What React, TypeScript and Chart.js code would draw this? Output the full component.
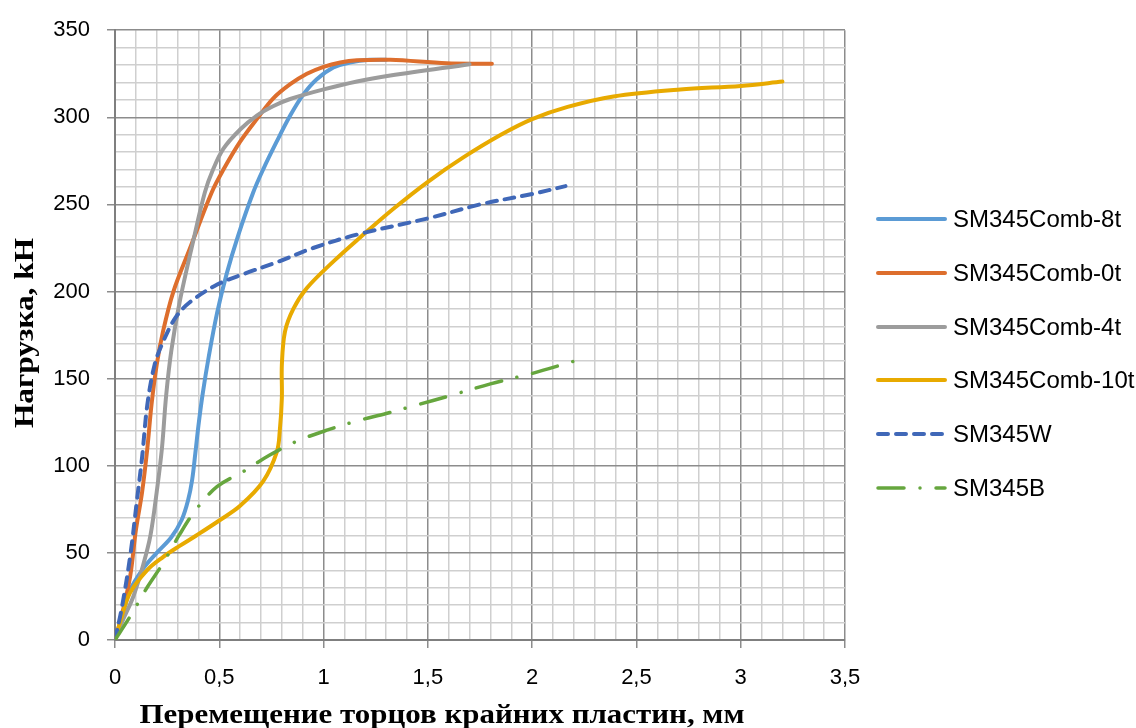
import React, { useEffect, useRef } from 'react';
import { Chart, registerables } from 'chart.js';

Chart.register(...registerables);

// ---- Data ----
const seriesNames = ['SM345Comb-8t', 'SM345Comb-0t', 'SM345Comb-4t', 'SM345Comb-10t', 'SM345W', 'SM345B'];

const comb8tX = [0, 0.035, 0.072, 0.135, 0.2, 0.27, 0.32, 0.35, 0.37, 0.385, 0.4, 0.42, 0.45, 0.49, 0.535, 0.59, 0.663, 0.71, 0.775, 0.84, 0.9, 0.966, 1.047, 1.126, 1.22, 1.3];
const comb8tY = [0, 14, 28.6, 41, 50, 59, 69, 80, 92, 107, 123, 141, 163, 188, 210, 232, 257, 270, 286, 301, 312.6, 321.7, 328.6, 331.4, 333, 333];

const comb0tX = [0, 0.024, 0.072, 0.1, 0.13, 0.155, 0.175, 0.2, 0.23, 0.28, 0.36, 0.464, 0.52, 0.6, 0.68, 0.76, 0.84, 0.92, 1.0, 1.08, 1.16, 1.32, 1.59, 1.807];
const comb0tY = [0, 10, 36, 63, 85, 110, 135, 158, 177, 200, 225, 257, 270, 286, 299, 311, 319, 325, 329, 331.5, 332.7, 333, 331, 330.8];

const comb4tX = [0, 0.04, 0.088, 0.135, 0.17, 0.2, 0.225, 0.245, 0.27, 0.31, 0.375, 0.431, 0.47, 0.52, 0.6, 0.68, 0.76, 0.84, 1.0, 1.16, 1.32, 1.7];
const comb4tY = [0, 12, 25, 43, 60, 85, 110, 140, 166, 194, 229, 257, 270, 282, 293, 301, 306.5, 310.5, 316, 320.6, 324, 330.5];

const comb10tX = [0, 0.024, 0.072, 0.153, 0.23, 0.31, 0.39, 0.5, 0.6, 0.71, 0.776, 0.79, 0.8, 0.8, 0.815, 0.855, 0.92, 1.045, 1.175, 1.335, 1.5, 1.67, 1.85, 2.0, 2.17, 2.39, 2.71, 3.0, 3.2];
const comb10tY = [0, 10, 27, 40, 47.6, 54, 60, 68.6, 77, 91, 108, 120, 139, 158, 177, 190, 202, 217, 231, 247.5, 263, 277, 290, 299, 306, 312, 316, 318, 320.5];

const wX = [0, 0.035, 0.075, 0.105, 0.13, 0.155, 0.19, 0.23, 0.29, 0.36, 0.49, 0.615, 0.78, 0.95, 1.17, 1.5, 1.75, 2.0, 2.16];
const wY = [0, 20, 50, 80, 105, 135, 158, 171, 185, 194, 204, 210, 217, 225, 233, 242, 250, 256, 260.5];

const bX = [0, 0.07, 0.153, 0.23, 0.307, 0.383, 0.489, 0.614, 0.74, 0.87, 1.02, 1.16, 1.3, 1.45, 1.6, 1.8, 2.0, 2.2];
const bY = [0, 13, 30, 44, 60, 74, 88, 96.6, 106, 114, 120.6, 125.7, 130, 135, 140, 147, 153, 160];

const xMajorTicks = [0, 0.5, 1, 1.5, 2, 2.5, 3, 3.5];
const yMajorTicks = [0, 50, 100, 150, 200, 250, 300, 350];

const xTitle = 'Перемещение торцов крайних пластин, мм';
const yTitle = 'Нагрузка, kH';

// ---- Styles ----
const seriesStyles = [
  { color: '#5B9BD5', width: 4, dash: [] as number[] },
  { color: '#DD6E2D', width: 4, dash: [] as number[] },
  { color: '#9C9C9C', width: 4, dash: [] as number[] },
  { color: '#E8AA00', width: 4, dash: [] as number[] },
  { color: '#4068B8', width: 4, dash: [10, 8] },
  { color: '#66A63E', width: 3.5, dash: [26, 16, 0.01, 16] },
];

const seriesX = [comb8tX, comb0tX, comb4tX, comb10tX, wX, bX];
const seriesY = [comb8tY, comb0tY, comb4tY, comb10tY, wY, bY];

const isMajor = (v: number, majors: number[]) => majors.some((m) => Math.abs(m - v) < 1e-6);
const MAJOR_GRID = '#8C8C8C';
const MINOR_GRID = '#CFCFCF';
const TITLE_FONT = 'bold 27px "Liberation Serif", "Times New Roman", serif';

// Axis titles drawn as canvas text, slightly widened like the reference
const axisTitlePlugin = {
  id: 'axisTitles',
  afterDraw(chart: any) {
    const ctx = chart.ctx as CanvasRenderingContext2D;
    ctx.save();
    ctx.font = TITLE_FONT;
    ctx.fillStyle = '#000';
    ctx.textAlign = 'center';
    ctx.textBaseline = 'alphabetic';
    const wx = ctx.measureText(xTitle).width;
    ctx.translate(442, 723);
    ctx.scale(605 / wx, 1);
    ctx.fillText(xTitle, 0, 0);
    ctx.restore();

    ctx.save();
    ctx.font = TITLE_FONT;
    ctx.fillStyle = '#000';
    ctx.textAlign = 'center';
    ctx.textBaseline = 'alphabetic';
    const wy = ctx.measureText(yTitle).width;
    ctx.translate(33, 333);
    ctx.rotate(-Math.PI / 2);
    ctx.scale(190 / wy, 1);
    ctx.fillText(yTitle, 0, 0);
    ctx.restore();
  },
};

export default function App() {
  const canvasRef = useRef<HTMLCanvasElement | null>(null);

  useEffect(() => {
    const canvas = canvasRef.current;
    if (!canvas) return;
    const n = seriesNames.length;
    const chart = new Chart(canvas, {
      type: 'scatter',
      data: {
        datasets: seriesNames.map((name, i) => ({
          label: name,
          data: seriesX[i].map((x, j) => ({ x, y: seriesY[i][j] })),
          showLine: true,
          borderColor: seriesStyles[i].color,
          backgroundColor: seriesStyles[i].color,
          borderWidth: seriesStyles[i].width,
          borderDash: seriesStyles[i].dash,
          borderCapStyle: 'round',
          borderJoinStyle: 'round',
          pointRadius: 0,
          pointHoverRadius: 0,
          tension: 0.35,
          fill: false,
          order: n - i,
        })),
      },
      plugins: [axisTitlePlugin],
      options: {
        responsive: false,
        animation: false,
        layout: { padding: { top: 28, right: 291, bottom: 0, left: 0 } },
        plugins: { legend: { display: false }, tooltip: { enabled: false } },
        scales: {
          x: {
            type: 'linear',
            min: 0,
            max: 3.5,
            afterFit: (s: any) => { s.height = 88; },
            ticks: {
              stepSize: 0.1,
              autoSkip: false,
              maxRotation: 0,
              minRotation: 0,
              padding: 17,
              color: '#000',
              font: { family: '"Liberation Sans", Arial, sans-serif', size: 22 },
              callback: (v: any) => (isMajor(Number(v), xMajorTicks) ? String(Math.round(Number(v) * 10) / 10).replace('.', ',') : ''),
            },
            grid: {
              color: (c: any) => (c.tick && isMajor(c.tick.value, xMajorTicks) ? MAJOR_GRID : MINOR_GRID),
              tickColor: (c: any) => (c.tick && isMajor(c.tick.value, xMajorTicks) ? MAJOR_GRID : 'rgba(0,0,0,0)'),
              lineWidth: 1.5,
              tickLength: 8,
            },
            border: { color: '#7F7F7F', width: 2 },
            title: { display: false },
          },
          y: {
            type: 'linear',
            min: 0,
            max: 350,
            afterFit: (s: any) => { s.width = 115; },
            ticks: {
              stepSize: 10,
              autoSkip: false,
              padding: 17,
              color: '#000',
              font: { family: '"Liberation Sans", Arial, sans-serif', size: 22 },
              callback: (v: any) => (isMajor(Number(v), yMajorTicks) ? String(Math.round(Number(v))) : ''),
            },
            grid: {
              color: (c: any) => (c.tick && isMajor(c.tick.value, yMajorTicks) ? MAJOR_GRID : MINOR_GRID),
              tickColor: (c: any) => (c.tick && isMajor(c.tick.value, yMajorTicks) ? MAJOR_GRID : 'rgba(0,0,0,0)'),
              lineWidth: 1.5,
              tickLength: 8,
            },
            border: { color: '#7F7F7F', width: 2 },
            title: { display: false },
          },
        },
      },
    } as any);
    return () => chart.destroy();
  }, []);

  return (
    <div style={{ position: 'absolute', left: 0, top: 0, width: 1136, height: 728, background: '#fff' }}>
      <canvas ref={canvasRef} width={1136} height={728} style={{ display: 'block' }} />
      {seriesNames.map((name, i) => (
        <div
          key={name}
          style={{
            position: 'absolute',
            left: 876,
            top: 219 + i * 53.8 - 15,
            height: 30,
            display: 'flex',
            alignItems: 'center',
            whiteSpace: 'nowrap',
            font: '24px "Liberation Sans", Arial, sans-serif',
            color: '#000',
          }}
        >
          <svg width={71} height={10} style={{ display: 'block' }}>
            <line
              x1={2}
              y1={5}
              x2={69}
              y2={5}
              stroke={seriesStyles[i].color}
              strokeWidth={seriesStyles[i].width}
              strokeDasharray={seriesStyles[i].dash.length ? seriesStyles[i].dash.join(' ') : undefined}
              strokeLinecap="round"
            />
          </svg>
          <span style={{ marginLeft: 6 }}>{name}</span>
        </div>
      ))}
    </div>
  );
}
